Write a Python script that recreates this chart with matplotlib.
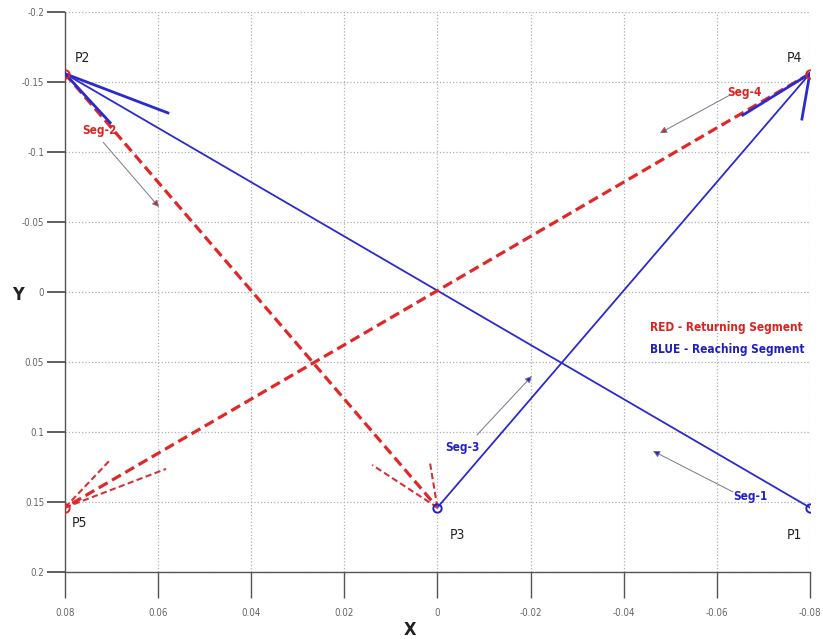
import matplotlib
matplotlib.use('Agg')
import matplotlib.pyplot as plt

plt.rcParams['font.family'] = ['DejaVu Sans']
plt.rcParams['font.stretch'] = 'condensed'

# target points
pt_names = ['P1', 'P2', 'P3', 'P4', 'P5']
pt_x = [-0.08, 0.08, 0.0, -0.08, 0.08]
pt_y = [0.154, -0.156, 0.154, -0.156, 0.154]
pt_colors = ['#2222cc', '#dd2222', '#2222cc', '#dd2222', '#dd2222']
label_x = [-0.0768, 0.0763, -0.0044, -0.0768, 0.0768]
label_y = [0.1736, -0.1671, 0.1736, -0.1671, 0.165]

# reaching segments (blue, solid): start -> end
reach_segs = [(0, 1), (2, 3)]
# returning segments (red, dashed)
return_segs = [(1, 2), (3, 4)]

# short trajectory fragments near targets
blue_frag_x = [[0.08, 0.0579], [0.08, 0.0703], [-0.08, -0.0783], [-0.08, -0.0656]]
blue_frag_y = [[-0.156, -0.128], [-0.156, -0.121], [-0.156, -0.1236], [-0.156, -0.1264]]
red_frag_x = [[0.08, 0.0705], [0.08, 0.0583], [0.0, 0.014], [0.0, 0.0016]]
red_frag_y = [[0.154, 0.1207], [0.154, 0.1264], [0.154, 0.1236], [0.154, 0.122]]

# segment annotations: label, label pos, arrow start, arrow end
seg_labels = ['Seg-1', 'Seg-2', 'Seg-3', 'Seg-4']
seg_label_pos = [(-0.0672, 0.1464), (0.0725, -0.1157), (-0.0053, 0.1114), (-0.066, -0.1429)]
seg_arrow_from = [(-0.0635, 0.1429), (0.0718, -0.107), (-0.0085, 0.1021), (-0.0628, -0.1407)]
seg_arrow_to = [(-0.0463, 0.1136), (0.0598, -0.0607), (-0.0203, 0.06), (-0.0478, -0.1136)]
seg_colors = ['#2222cc', '#dd2222', '#2222cc', '#dd2222']

x_ticks = [0.08, 0.06, 0.04, 0.02, 0, -0.02, -0.04, -0.06, -0.08]
x_tick_labels = ['0.08', '0.06', '0.04', '0.02', '0', '-0.02', '-0.04', '-0.06', '-0.08']
y_ticks = [-0.2, -0.15, -0.1, -0.05, 0, 0.05, 0.1, 0.15, 0.2]
y_tick_labels = ['-0.2', '-0.15', '-0.1', '-0.05', '0', '0.05', '0.1', '0.15', '0.2']

fig = plt.figure(figsize=(8.23, 6.39), dpi=100)
ax = fig.add_axes([0.079, 0.105, 0.905, 0.876])

for a, b in reach_segs:
    ax.plot([pt_x[a], pt_x[b]], [pt_y[a], pt_y[b]], color='#2a2ad0', lw=1.3, zorder=3)
for a, b in return_segs:
    ax.plot([pt_x[a], pt_x[b]], [pt_y[a], pt_y[b]], color='#e02828', lw=2.3,
            ls=(0, (3.2, 1.6)), zorder=3)

for xs, ys in zip(blue_frag_x, blue_frag_y):
    ax.plot(xs, ys, color='#2a2ad0', lw=2.0, zorder=4)
for xs, ys in zip(red_frag_x, red_frag_y):
    ax.plot(xs, ys, color='#d8303a', lw=1.5, ls=(0, (3, 1.6)), zorder=3)

for x, y, c in zip(pt_x, pt_y, pt_colors):
    ax.plot(x, y, 'o', mfc='none', mec=c, ms=6, mew=1.4, zorder=5)
for n, x, y in zip(pt_names, label_x, label_y):
    ax.text(x, y, n, fontsize=10, ha='center', va='center', color='#222222')

for lab, lp, af, at, c in zip(seg_labels, seg_label_pos, seg_arrow_from, seg_arrow_to, seg_colors):
    ax.text(lp[0], lp[1], lab, fontsize=8.5, fontweight='bold', color=c,
            ha='center', va='center')
    ax.annotate('', xy=at, xytext=af,
                arrowprops=dict(arrowstyle='-|>', fc=c, ec='#777788', lw=0.7,
                                mutation_scale=10, shrinkA=0, shrinkB=0))

ax.text(-0.0457, 0.025, 'RED - Returning Segment', fontsize=8.5, fontweight='bold',
        color='#e02020', ha='left', va='center')
ax.text(-0.0457, 0.0414, 'BLUE - Reaching Segment', fontsize=8.5, fontweight='bold',
        color='#1f1fc0', ha='left', va='center')

ax.set_xlim(0.08, -0.08)
ax.set_ylim(0.2, -0.2)
ax.set_xticks(x_ticks)
ax.set_xticklabels(x_tick_labels)
ax.set_yticks(y_ticks)
ax.set_yticklabels(y_tick_labels)
ax.tick_params(axis='y', direction='out', length=13, width=1.2, color='#444444',
               labelsize=7, labelcolor='#666666', pad=2)
ax.tick_params(axis='x', direction='out', length=19, width=1.0, color='#555555',
               labelsize=7, labelcolor='#666666', pad=7)
ax.grid(True, ls=':', color='#b0b0b0', lw=0.9)
for s in ['top', 'right']:
    ax.spines[s].set_visible(False)
for s in ['left', 'bottom']:
    ax.spines[s].set_color('#555555')
    ax.spines[s].set_linewidth(1.0)

fig.text(18 / 823, 1 - 295 / 639, 'Y', fontsize=13, fontweight='bold',
         ha='center', va='center', color='#222222')
fig.text(410 / 823, 1 - 630 / 639, 'X', fontsize=13, fontweight='bold',
         ha='center', va='center', color='#222222')

fig.savefig('out.png', dpi=100)
